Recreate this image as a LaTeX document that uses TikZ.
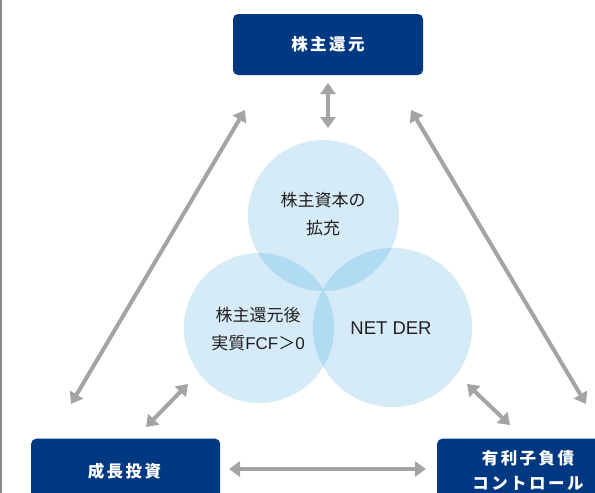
\documentclass[tikz,border=0pt]{standalone}
\usepackage{fontspec}
\setmainfont{Noto Sans CJK JP}
\newfontfamily\boxfont{Noto Sans CJK JP}[LetterSpace=15]
\newfontfamily\lat{Liberation Sans}
\usetikzlibrary{arrows.meta}
\definecolor{navy}{HTML}{003882}
\definecolor{lblue}{HTML}{D5EBF8}
\definecolor{dblue}{HTML}{B0DBF3}
\definecolor{agray}{HTML}{A4A4A4}
\definecolor{txt}{HTML}{231F20}
\tikzset{
  box/.style={fill=navy, rounded corners=5pt, inner sep=0pt},
  boxtext/.style={text=white, font=\boxfont\bfseries\fontsize{16.5}{25}\selectfont, align=center, inner sep=0pt},
  circtext/.style={text=txt, font=\fontsize{17}{28}\selectfont, align=center, inner sep=0pt},
  twoway/.style={draw=agray, line width=4pt, {Triangle[length=11pt,width=15pt]}-{Triangle[length=11pt,width=15pt]}},
}
\begin{document}
\begin{tikzpicture}[x=1pt,y=-1pt]
\useasboundingbox (0,0) rectangle (595,493);
\clip (0,0) rectangle (595,493);
\fill[white] (0,0) rectangle (595,493);
% left border
\draw[draw=gray!90, line width=2pt] (1,0) -- (1,493);
% circles
\coordinate (ct) at (323.5,215.5);
\coordinate (cl) at (259,328);
\coordinate (cr) at (392.5,327.5);
\fill[lblue] (ct) circle (75.5);
\fill[lblue] (cl) circle (75);
\fill[lblue] (cr) circle (79.5);
\begin{scope}
  \clip (ct) circle (75.5);
  \fill[dblue] (cl) circle (75);
  \fill[dblue] (cr) circle (79.5);
\end{scope}
\begin{scope}
  \clip (cl) circle (75);
  \fill[dblue] (cr) circle (79.5);
\end{scope}
\node[circtext] (tt) at (323,214) {株主資本の\\拡充};
\node[circtext] (tl) at (258,329) {株主還元後\\実質{\lat FCF}＞{\lat 0}};
\node[circtext, font=\lat\fontsize{18.5}{22}\selectfont] (tr) at (391,328) {NET DER};
% boxes
\node[box, minimum width=190pt, minimum height=61pt] (top) at (328,44.5) {};
\node[boxtext] (toptext) at (328,44.5) {株主還元};
\node[box, minimum width=189pt, minimum height=90pt, anchor=north west] (grow) at (31,438.5) {};
\node[boxtext] (growtext) at (124.5,471) {成長投資};
\node[box, minimum width=200pt, minimum height=90pt, anchor=north west] (debt) at (437,438.5) {};
\node[boxtext, text width=160pt] (debttext) at (528,470) {有利子負債\\コントロール};
% arrow end points
\coordinate (a1) at (328,83);  \coordinate (b1) at (328,128);
\coordinate (a2) at (245,110); \coordinate (b2) at (71,404);
\coordinate (a3) at (411,110); \coordinate (b3) at (586,404);
\coordinate (a4) at (146,427); \coordinate (b4) at (188,384);
\coordinate (a5) at (467,384); \coordinate (b5) at (510,425);
\coordinate (a6) at (229,469); \coordinate (b6) at (426,469);
\draw[twoway] (a1) -- (b1);
\draw[twoway] (a2) -- (b2);
\draw[twoway] (a3) -- (b3);
\draw[twoway] (a4) -- (b4);
\draw[twoway] (a5) -- (b5);
\draw[twoway] (a6) -- (b6);
\end{tikzpicture}
\end{document}
